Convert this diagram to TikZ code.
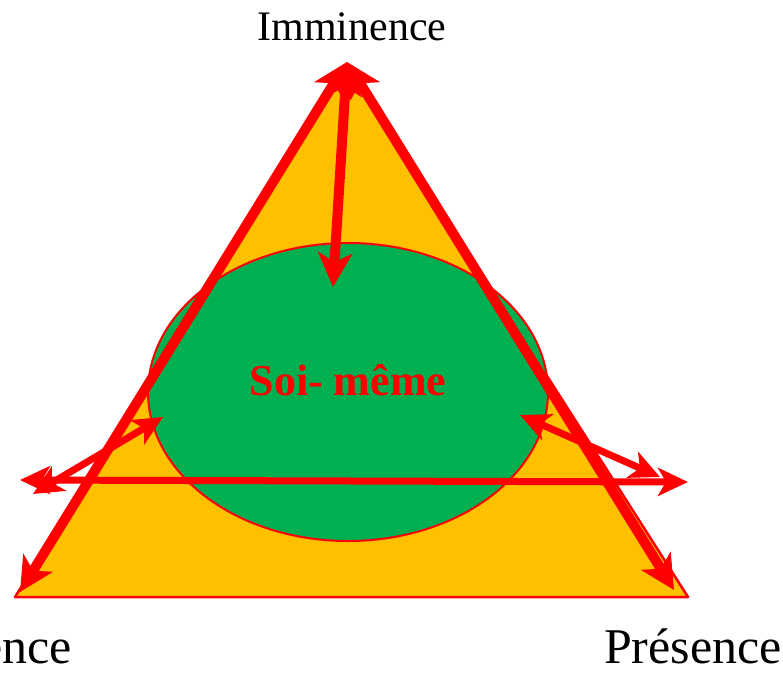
\documentclass[tikz,border=0pt]{standalone}
\usepackage{fontspec}
\setmainfont{Liberation Serif}
\usetikzlibrary{arrows.meta,shapes.geometric}
\definecolor{tri}{HTML}{FFC000}
\definecolor{egg}{HTML}{00B050}
\definecolor{rd}{HTML}{FF0000}
\begin{document}
\begin{tikzpicture}[x=1pt,y=-1pt,
  bigtip/.style={Stealth[length=34pt,width=34pt,inset=9pt]},
  smalltip/.style={Stealth[length=30pt,width=28pt,inset=8pt]},
  bigarrow/.style={draw=rd, line width=10pt, {Stealth[length=34pt,width=34pt,inset=9pt]}-{Stealth[length=34pt,width=34pt,inset=9pt]}},
  smallarrow/.style={draw=rd, line width=7pt, {Stealth[length=30pt,width=28pt,inset=8pt]}-{Stealth[length=30pt,width=28pt,inset=8pt]}},
  lbl/.style={inner sep=0pt, text=black}]
\useasboundingbox (0,0) rectangle (783,675);
\coordinate (T) at (348,64);
\coordinate (L) at (15,597);
\coordinate (R) at (688,597);
\fill[tri, draw=rd, line width=2.5pt, line join=round] (L) -- (T) -- (R) -- cycle;
\node[ellipse, fill=egg, draw=rd, line width=2pt, minimum width=400pt, minimum height=298pt, inner sep=0pt] (self) at (348,392) {};
\node[inner sep=0pt, text=rd, font=\fontsize{44}{48}\selectfont\bfseries] (soi) at (348,380) {Soi- même};
% horizontal and diagonal arrows
\coordinate (hL) at (20,480);
\coordinate (hR) at (688,482);
\draw[smallarrow] (hL) -- (hR);
\coordinate (dL1) at (33,494);
\coordinate (dL2) at (163,417);
\draw[smallarrow] (dL1) -- (dL2);
\coordinate (dR1) at (520,415);
\coordinate (dR2) at (660,477);
\draw[smallarrow] (dR1) -- (dR2);
% sides
\coordinate (sL) at (20,592);
\coordinate (sR) at (674,590);
\coordinate (aT) at (347,62);
\draw[bigarrow] (sL) -- (aT);
\draw[bigarrow] (aT) -- (sR);
\coordinate (vB) at (333,287);
\draw[bigarrow] (aT) -- (vB);
% labels
\node[lbl, font=\fontsize{42}{46}\selectfont, anchor=base] (imm) at (352,40) {Imminence};
\node[lbl, font=\fontsize{50}{54}\selectfont, anchor=base east] (pres) at (782,663) {Présence};
\node[lbl, font=\fontsize{50}{54}\selectfont, anchor=base east] (abs) at (72,663) {ence};
\end{tikzpicture}
\end{document}
